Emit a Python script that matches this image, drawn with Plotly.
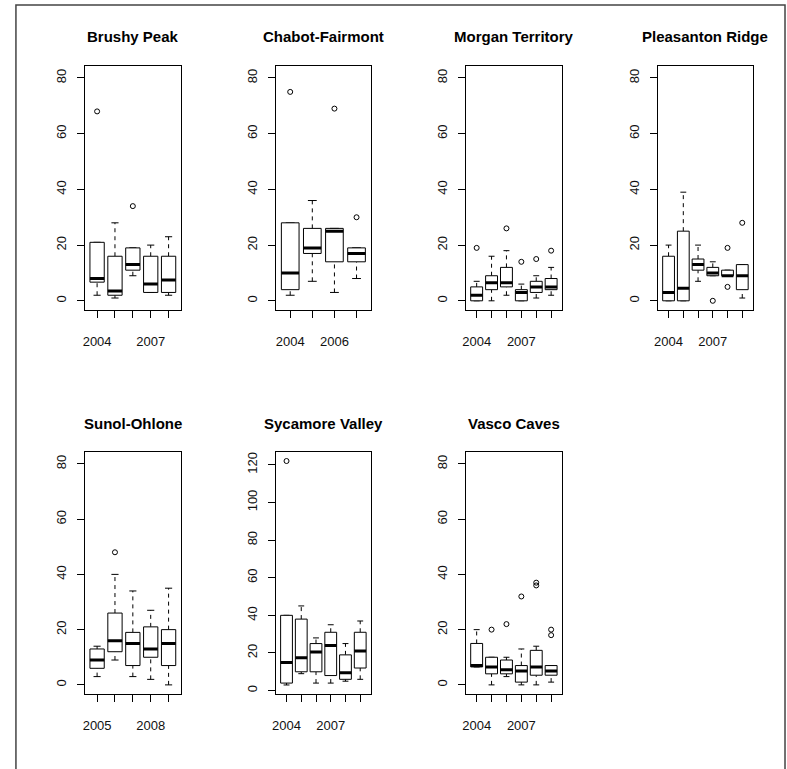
import plotly.graph_objects as go

W, H = 787, 769

parks = ["Brushy Peak", "Chabot-Fairmont", "Morgan Territory", "Pleasanton Ridge",
         "Sunol-Ohlone", "Sycamore Valley", "Vasco Caves"]

years = {
    "Brushy Peak": [2004, 2005, 2006, 2007, 2008],
    "Chabot-Fairmont": [2004, 2005, 2006, 2007],
    "Morgan Territory": [2004, 2005, 2006, 2007, 2008, 2009],
    "Pleasanton Ridge": [2004, 2005, 2006, 2007, 2008, 2009],
    "Sunol-Ohlone": [2005, 2006, 2007, 2008, 2009],
    "Sycamore Valley": [2004, 2005, 2006, 2007, 2008, 2009],
    "Vasco Caves": [2004, 2005, 2006, 2007, 2008, 2009],
}
# years that R managed to print under each panel
shown_years = {
    "Brushy Peak": [2004, 2007],
    "Chabot-Fairmont": [2004, 2006],
    "Morgan Territory": [2004, 2007],
    "Pleasanton Ridge": [2004, 2007],
    "Sunol-Ohlone": [2005, 2008],
    "Sycamore Valley": [2004, 2007],
    "Vasco Caves": [2004, 2007],
}

# five-number summaries per park
lower = {
    "Brushy Peak": [2, 1, 9, 3, 2],
    "Chabot-Fairmont": [2, 7, 3, 8],
    "Morgan Territory": [0, 0, 2, 0, 1, 2],
    "Pleasanton Ridge": [0, 0, 7, 9, 9, 1],
    "Sunol-Ohlone": [3, 9, 3, 2, 0],
    "Sycamore Valley": [3, 9, 4, 4, 5, 6],
    "Vasco Caves": [6.5, 0, 3, 0, 0, 1],
}
q1 = {
    "Brushy Peak": [6.7, 2, 11, 3, 3],
    "Chabot-Fairmont": [4, 17, 14, 14],
    "Morgan Territory": [0, 4, 5, 0, 3, 4],
    "Pleasanton Ridge": [0, 0, 11, 9, 9, 4],
    "Sunol-Ohlone": [6, 12, 7, 10, 7],
    "Sycamore Valley": [4, 10, 10, 8, 6, 12],
    "Vasco Caves": [6.5, 4, 4, 1, 3.5, 3.5],
}
median = {
    "Brushy Peak": [8, 3.5, 13, 6, 7.5],
    "Chabot-Fairmont": [10, 19, 25, 17],
    "Morgan Territory": [2, 6.5, 6.5, 3, 5, 5],
    "Pleasanton Ridge": [3, 4.5, 13, 10, 9, 9],
    "Sunol-Ohlone": [9, 16, 15, 13, 15],
    "Sycamore Valley": [15, 17.5, 20.5, 24, 9.5, 21],
    "Vasco Caves": [7, 6.5, 5.5, 5, 6.5, 5],
}
q3 = {
    "Brushy Peak": [21, 16, 19, 16, 16],
    "Chabot-Fairmont": [28, 26, 26, 19],
    "Morgan Territory": [5, 9, 12, 4, 7, 8],
    "Pleasanton Ridge": [16, 25, 15, 12, 11, 13],
    "Sunol-Ohlone": [13, 26, 19, 21, 20],
    "Sycamore Valley": [40, 38, 25, 31, 19, 31],
    "Vasco Caves": [15, 10, 9, 7, 12.5, 7],
}
upper = {
    "Brushy Peak": [21, 28, 19, 20, 23],
    "Chabot-Fairmont": [28, 36, 26, 19],
    "Morgan Territory": [7, 16, 18, 6, 9, 12],
    "Pleasanton Ridge": [20, 39, 20, 14, 11, 13],
    "Sunol-Ohlone": [14, 40, 34, 27, 35],
    "Sycamore Valley": [40, 45, 28, 35, 25, 37],
    "Vasco Caves": [20, 10, 10, 13, 14, 7],
}
# outliers as (box number, value)
outliers = {
    "Brushy Peak": [(1, 68), (3, 34)],
    "Chabot-Fairmont": [(1, 75), (3, 69), (4, 30)],
    "Morgan Territory": [(1, 19), (3, 26), (4, 14), (5, 15), (6, 18)],
    "Pleasanton Ridge": [(4, 0), (5, 19), (5, 5), (6, 28)],
    "Sunol-Ohlone": [(2, 48)],
    "Sycamore Valley": [(1, 122)],
    "Vasco Caves": [(2, 20), (3, 22), (4, 32), (5, 36), (5, 37), (6, 18), (6, 20)],
}

yticks = {p: [0, 20, 40, 60, 80] for p in parks}
yticks["Sycamore Valley"] = [0, 20, 40, 60, 80, 100, 120]
yrange = {p: [-3.3, 84.3] for p in parks}
yrange["Sycamore Valley"] = [-1.8, 126.8]

# panel plot regions in pixels: (left, right, top, bottom)
col_x = [(81, 178), (273, 369), (464, 561), (657, 753)]
row_y = [(66, 310), (452, 694)]

FONT = "Liberation Sans, Arial, Helvetica, sans-serif"
BW = 0.4   # half box width
SW = 0.2   # half staple width

fig = go.Figure()
layout_axes = {}
annotations = []

for k, park in enumerate(parks):
    r, c = divmod(k, 4)
    xl, xr = col_x[c]
    yt, yb = row_y[r]
    ax = "" if k == 0 else str(k + 1)
    xa, ya = "x" + ax, "y" + ax
    n = len(years[park])

    bx, by, mx, my, wx, wy, sx, sy = [], [], [], [], [], [], [], []
    for i in range(n):
        p = i + 1
        bx += [p - BW, p + BW, p + BW, p - BW, p - BW, None]
        by += [q1[park][i], q1[park][i], q3[park][i], q3[park][i], q1[park][i], None]
        mx += [p - BW, p + BW, None]
        my += [median[park][i], median[park][i], None]
        wx += [p, p, None, p, p, None]
        wy += [lower[park][i], q1[park][i], None, q3[park][i], upper[park][i], None]
        sx += [p - SW, p + SW, None, p - SW, p + SW, None]
        sy += [lower[park][i], lower[park][i], None, upper[park][i], upper[park][i], None]

    common = dict(xaxis=xa, yaxis=ya, hoverinfo="skip", showlegend=False, mode="lines")
    fig.add_trace(go.Scatter(x=wx, y=wy, line=dict(color="black", width=1, dash="4px,4px"), **common))
    fig.add_trace(go.Scatter(x=sx, y=sy, line=dict(color="black", width=1), **common))
    fig.add_trace(go.Scatter(x=bx, y=by, line=dict(color="black", width=1), fill="toself",
                             fillcolor="white", **common))
    fig.add_trace(go.Scatter(x=mx, y=my, line=dict(color="black", width=3), **common))
    fig.add_trace(go.Scatter(
        x=[o[0] for o in outliers[park]], y=[o[1] for o in outliers[park]],
        mode="markers", xaxis=xa, yaxis=ya, showlegend=False, hoverinfo="skip",
        marker=dict(symbol="circle-open", size=5, color="black", line=dict(width=1)),
    ))

    ext = 0.04 * n
    layout_axes["xaxis" + ax] = dict(
        domain=[xl / W, xr / W], anchor=ya, range=[0.5 - ext, n + 0.5 + ext],
        tickvals=list(range(1, n + 1)),
        ticktext=[str(y) if y in shown_years[park] else "" for y in years[park]],
        showline=True, mirror=True, linecolor="black", linewidth=1,
        ticks="outside", ticklen=7, tickcolor="black", showgrid=False, zeroline=False,
        ticklabelstandoff=12, tickfont=dict(size=13, color="#111"),
    )
    layout_axes["yaxis" + ax] = dict(
        domain=[1 - yb / H, 1 - yt / H], anchor=xa, range=yrange[park],
        tickvals=yticks[park], tickangle=-90,
        showline=True, mirror=True, linecolor="black", linewidth=1,
        ticks="outside", ticklen=7, tickcolor="black", showgrid=False, zeroline=False,
        ticklabelstandoff=5, tickfont=dict(size=13, color="#111"),
    )
    annotations.append(dict(
        text="<b>" + park + "</b>", xref="paper", yref="paper",
        x=(xl + xr) / 2 / W, y=1 - (yt - 29) / H, xanchor="center", yanchor="middle",
        showarrow=False, font=dict(size=15, color="black", family=FONT),
    ))

fig.update_layout(
    width=W, height=H,
    margin=dict(l=0, r=0, t=0, b=0),
    paper_bgcolor="white", plot_bgcolor="white",
    font=dict(family=FONT, color="black"),
    annotations=annotations,
    shapes=[dict(type="rect", xref="paper", yref="paper",
                 x0=12 / W, x1=785 / W, y0=-0.05, y1=1 - 5 / H,
                 line=dict(color="#444", width=1.5))],
    **layout_axes,
)

# drop the page's default body margin so the figure sits at the window's corner
fig.write_html("out.html", config={"displayModeBar": False},
               post_script="document.body.style.margin = '0';")
